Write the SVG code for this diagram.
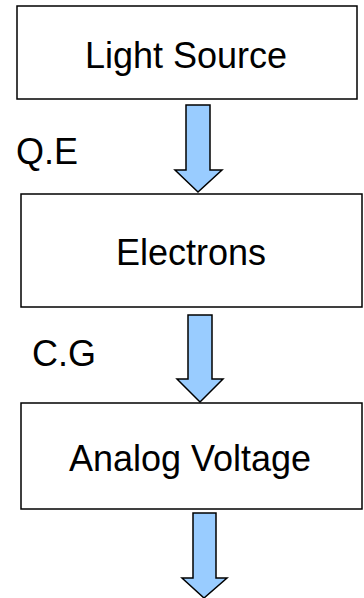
<svg xmlns="http://www.w3.org/2000/svg" width="364" height="598" viewBox="0 0 364 598">
<style>
.box{fill:#fff;stroke:#000;stroke-width:1.5}
.arr{fill:#99ccff;stroke:#000;stroke-width:1.5;stroke-linejoin:miter}
.t{font-family:"Liberation Sans",Arial,sans-serif;font-size:36px;fill:#000}
</style>
<rect width="364" height="598" fill="#fff"/>
<g id="n1"><rect class="box" x="17" y="6" width="340" height="93"/><text class="t" x="186" y="68" text-anchor="middle">Light Source</text></g>
<g id="n2"><rect class="box" x="21" y="194" width="341" height="113"/><text class="t" x="191" y="265" text-anchor="middle">Electrons</text></g>
<g id="n3"><rect class="box" x="21" y="403" width="341" height="106"/><text class="t" x="190" y="471" text-anchor="middle">Analog Voltage</text></g>
<g id="connectors">
<polygon class="arr" points="186,105 210,105 210,170 222,170 198,192 175,170 186,170"/>
<text class="t" x="16" y="164">Q.E</text>
<polygon class="arr" points="188,315 212,315 212,379 223,379 200,402 177,379 188,379"/>
<text class="t" x="32" y="366">C.G</text>
<polygon class="arr" points="193,513 216,513 216,578 227,578 204,598 182,578 193,578"/>
</g>
</svg>
